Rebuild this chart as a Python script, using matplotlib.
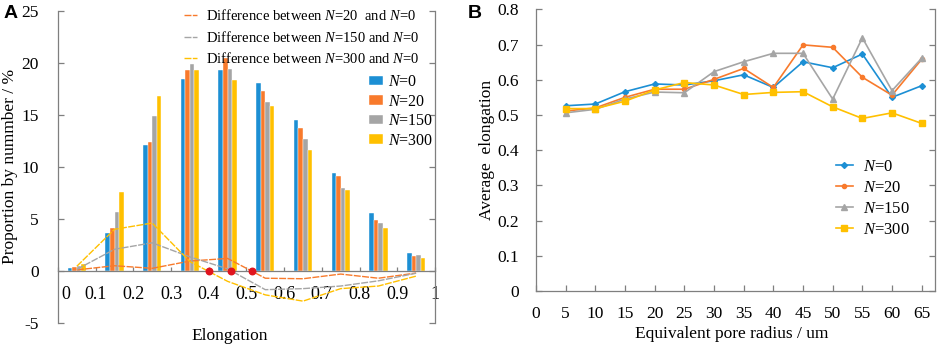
import numpy as np
import matplotlib
matplotlib.use("agg")
import matplotlib.pyplot as plt
import matplotlib.transforms as mtransforms

plt.rcParams["font.family"] = ["Liberation Serif", "DejaVu Serif"]
plt.rcParams["mathtext.fontset"] = "custom"
plt.rcParams["mathtext.rm"] = "Liberation Serif"
plt.rcParams["mathtext.it"] = "Liberation Serif:italic"

# ---- panel A data ----
group_centers = [0.05, 0.15, 0.25, 0.35, 0.45, 0.55, 0.65, 0.75, 0.85, 0.95]
bars_n0 = [0.32, 3.62, 12.13, 18.45, 19.30, 18.10, 14.50, 9.45, 5.60, 1.76]
bars_n20 = [0.35, 4.10, 12.35, 19.35, 20.50, 17.30, 13.70, 9.13, 4.87, 1.47]
bars_n150 = [0.45, 5.70, 14.87, 19.87, 19.40, 16.20, 12.70, 8.00, 4.65, 1.50]
bars_n300 = [0.67, 7.60, 16.77, 19.30, 18.30, 15.80, 11.60, 7.76, 4.13, 1.20]

diff_n20 = [0.10, 0.50, 0.25, 0.95, 1.20, -0.70, -0.75, -0.30, -0.70, -0.20]
diff_n150 = [0.15, 2.08, 2.70, 1.35, 0.20, -1.80, -1.70, -1.45, -0.95, -0.22]
diff_n300 = [0.45, 4.00, 4.60, 0.90, -1.00, -2.30, -2.90, -1.70, -1.45, -0.50]

zero_cross_x = [0.40, 0.46, 0.515]

a_xticks = [0, 0.1, 0.2, 0.3, 0.4, 0.5, 0.6, 0.7, 0.8, 0.9, 1]
a_xticklabels = ["0", "0.1", "0.2", "0.3", "0.4", "0.5", "0.6", "0.7", "0.8", "0.9", "1"]
a_yticks = [-5, 0, 5, 10, 15, 20, 25]

# ---- panel B data ----
radius = [5, 10, 15, 20, 25, 30, 35, 40, 45, 50, 55, 60, 65]
elong_n0 = [0.526, 0.531, 0.566, 0.588, 0.585, 0.597, 0.614, 0.578, 0.651, 0.634, 0.673, 0.550, 0.583]
elong_n20 = [0.511, 0.520, 0.550, 0.573, 0.573, 0.601, 0.632, 0.578, 0.699, 0.692, 0.607, 0.556, 0.658]
elong_n150 = [0.506, 0.516, 0.545, 0.565, 0.563, 0.623, 0.651, 0.675, 0.675, 0.545, 0.719, 0.569, 0.661]
elong_n300 = [0.518, 0.518, 0.539, 0.571, 0.592, 0.585, 0.558, 0.564, 0.566, 0.523, 0.490, 0.506, 0.476]

b_xticks = [0, 5, 10, 15, 20, 25, 30, 35, 40, 45, 50, 55, 60, 65]
b_yticks = [0, 0.1, 0.2, 0.3, 0.4, 0.5, 0.6, 0.7, 0.8]

c_blue = "#1C8FD4"
c_orange = "#F87A2C"
c_gray = "#A5A5A5"
c_yellow = "#FFC000"
c_red = "#E0141E"
c_axis = "#7F7F7F"

fig = plt.figure(figsize=(9.41, 3.47), dpi=100)
ax1 = fig.add_axes([0.0616, 0.0692, 0.4006, 0.90])
ax2 = fig.add_axes([0.5696, 0.1614, 0.424, 0.8118])

# ---------------- panel A ----------------
bw = 0.0121
x = np.array(group_centers)
ax1.bar(x - 1.5 * bw, bars_n0, bw, color=c_blue, edgecolor="white", linewidth=0.3, label="$\\it{N}$=0", zorder=2)
ax1.bar(x - 0.5 * bw, bars_n20, bw, color=c_orange, edgecolor="white", linewidth=0.3, label="$\\it{N}$=20", zorder=2)
ax1.bar(x + 0.5 * bw, bars_n150, bw, color=c_gray, edgecolor="white", linewidth=0.3, label="$\\it{N}$=150", zorder=2)
ax1.bar(x + 1.5 * bw, bars_n300, bw, color=c_yellow, edgecolor="white", linewidth=0.3, label="$\\it{N}$=300", zorder=2)

l1, = ax1.plot(x, diff_n20, color=c_orange, lw=1.0, ls=(0, (5, 1)), zorder=3)
l2, = ax1.plot(x, diff_n150, color=c_gray, lw=1.0, ls=(0, (5, 1)), zorder=3)
l3, = ax1.plot(x, diff_n300, color=c_yellow, lw=1.0, ls=(0, (5, 1)), zorder=3)
ax1.scatter(zero_cross_x, [0] * len(zero_cross_x), s=22, color=c_red, zorder=4)

ax1.set_xlim(0, 1)
ax1.set_ylim(-5, 25)
ax1.set_yticks(a_yticks)
ax1.set_yticklabels([str(v) for v in a_yticks])
ax1.set_xticks(a_xticks)
ax1.set_xticklabels(a_xticklabels)
ax1.spines["top"].set_visible(False)
ax1.spines["bottom"].set_position(("data", 0))
for s in ["left", "right", "bottom"]:
    ax1.spines[s].set_color(c_axis)
    ax1.spines[s].set_linewidth(0.9)
ax1.tick_params(axis="y", direction="in", length=4, width=0.9, color=c_axis, right=True,
                labelsize=12.5, pad=14)
ax1.tick_params(axis="x", direction="in", length=3, width=0.9, color=c_axis,
                labelsize=13, pad=11)
# first label sits right of the spine
lab0 = ax1.get_xticklabels()[0]
lab0.set_transform(lab0.get_transform() + mtransforms.ScaledTranslation(0.08, 0, fig.dpi_scale_trans))

ax1.set_ylabel("Proportion by nummber / %", fontsize=12.5)
ax1.yaxis.set_label_coords(-0.106, 0.5)
ax1.set_xlabel("Elongation", fontsize=12.5)
ax1.xaxis.set_label_coords(0.455, -0.015)

leg_lines = ax1.legend([l1, l2, l3],
                       ["Difference between $\\it{N}$=20  and $\\it{N}$=0",
                        "Difference between $\\it{N}$=150 and $\\it{N}$=0",
                        "Difference between $\\it{N}$=300 and $\\it{N}$=0"],
                       loc="upper left", bbox_to_anchor=(0.335, 1.008), frameon=False,
                       fontsize=10.5, handlelength=0.9, handletextpad=0.6,
                       labelspacing=0.45, borderaxespad=0, borderpad=0)
ax1.add_artist(leg_lines)
ax1.legend(loc="upper left", bbox_to_anchor=(0.825, 0.797), frameon=False, fontsize=11.5,
           handlelength=0.85, handleheight=0.55, handletextpad=0.35,
           labelspacing=0.22, borderaxespad=0, borderpad=0)

# ---------------- panel B ----------------
ax2.plot(radius, elong_n0, color=c_blue, lw=1.2, marker="D", ms=3, label="$\\it{N}$=0")
ax2.plot(radius, elong_n20, color=c_orange, lw=1.2, marker="o", ms=3, label="$\\it{N}$=20")
ax2.plot(radius, elong_n150, color=c_gray, lw=1.2, marker="^", ms=4.5, label="$\\it{N}$=150")
ax2.plot(radius, elong_n300, color=c_yellow, lw=1.2, marker="s", ms=4.5, label="$\\it{N}$=300")

ax2.set_xlim(0, 67.24)
ax2.set_ylim(0, 0.8)
ax2.set_xticks(b_xticks)
ax2.set_xticklabels([str(v) for v in b_xticks])
ax2.set_yticks(b_yticks)
ax2.set_yticklabels(["0" if v == 0 else "%.1f" % v for v in b_yticks])
ax2.spines["top"].set_visible(False)
for s in ["left", "right", "bottom"]:
    ax2.spines[s].set_color(c_axis)
    ax2.spines[s].set_linewidth(0.9)
ax2.tick_params(axis="y", direction="in", length=4, width=0.9, color=c_axis, right=True,
                labelsize=12.5, pad=12)
ax2.tick_params(axis="x", direction="in", length=4, width=0.9, color=c_axis,
                labelsize=12.5, pad=11)
ax2.set_ylabel("Average  elongation", fontsize=12.5)
ax2.yaxis.set_label_coords(-0.103, 0.5)
ax2.set_xlabel("Equivalent pore radius / um", fontsize=12.5)
ax2.xaxis.set_label_coords(0.49, -0.124)
ax2.legend(loc="upper left", bbox_to_anchor=(0.752, 0.469), frameon=False, fontsize=12,
           handlelength=1.0, handletextpad=0.6, labelspacing=0.3,
           borderaxespad=0, borderpad=0)

fig.text(0.004, 0.985, "A", fontsize=14, fontweight="bold", family="Liberation Sans", va="top")
fig.text(0.497, 0.985, "B", fontsize=14, fontweight="bold", family="Liberation Sans", va="top")

plt.savefig("out.png", dpi=100)
